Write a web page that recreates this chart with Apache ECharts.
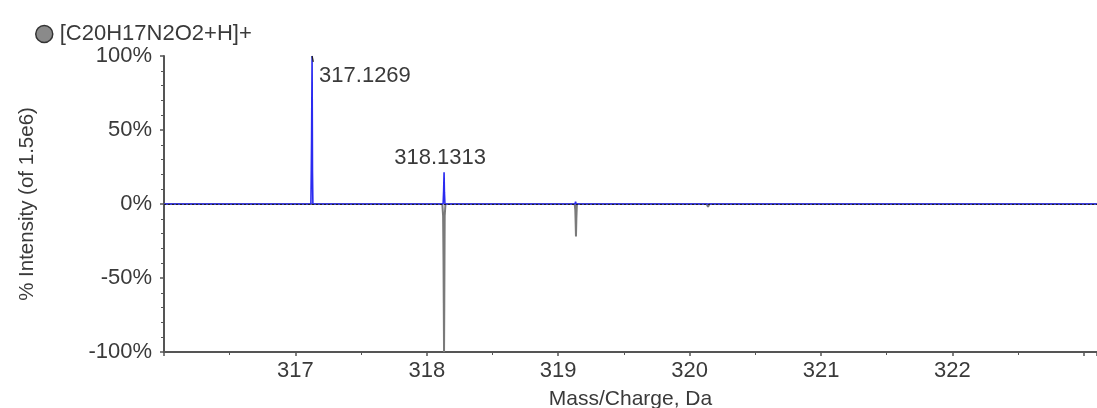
<!DOCTYPE html>
<html><head><meta charset="utf-8">
<script src="https://cdn.jsdelivr.net/npm/echarts@6/dist/echarts.min.js"></script>
<style>html,body{margin:0;padding:0;background:#fff;overflow:hidden}#c{width:1097px;height:408px}</style>
</head><body><div id="c"></div>
<script>
// Measured (blue) profile: [m/z, % intensity]
const measured = [
  [316.0, 0], [317.118, 0], [317.121, 24], [317.123, 43], [317.1269, 100], [317.130, 22], [317.133, 0],
  [318.124, 0], [318.128, 9], [318.1313, 21.5], [318.134, 8], [318.138, 0],
  [319.128, 0], [319.132, 1.5], [319.136, 0],
  [320.13, 0], [320.14, -1], [320.15, 0],
  [321.10, 0], [321.11, 1], [321.13, 0], [323.1, 0]
];
// Theoretical (grey, mirrored) profile
const theoretical = [
  [316.0, 0], [318.118, 0], [318.124, -8], [318.127, -38], [318.129, -67], [318.131, -100],
  [318.133, -67], [318.136, -8], [318.142, 0],
  [319.125, 0], [319.130, -4], [319.133, -14], [319.135, -22], [319.138, -10], [319.142, 0],
  [320.13, 0], [320.14, -2], [320.15, 0],
  [321.13, 0], [321.14, -0.5], [321.15, 0], [323.1, 0]
];
const peakLabels = [317.1269, 318.1313];
const xTicks = [317, 318, 319, 320, 321, 322];
const yTicks = [-100, -50, 0, 50, 100];
const formulaName = '[C20H17N2O2+H]+';

const txt = '#3a3a3a';
const font = 'Liberation Sans, Arial, sans-serif';
const chart = echarts.init(document.getElementById('c'), null, {renderer: 'canvas'});
chart.setOption({
  animation: false,
  textStyle: {fontFamily: font},
  legend: {
    left: 30, top: 18, icon: 'circle', itemWidth: 17, itemHeight: 17, itemGap: 4,
    data: [{name: formulaName, itemStyle: {color: '#8a8a8a', borderColor: '#333', borderWidth: 1.5}}],
    textStyle: {fontSize: 22, color: txt, fontFamily: font, padding: [0, 0, 0, 2]}
  },
  grid: {left: 164, right: 0, top: 56, bottom: 56, containLabel: false, outerBoundsMode: 'none'},
  xAxis: {
    type: 'value', min: 316, max: 323.1, interval: 1,
    name: 'Mass/Charge, Da', nameLocation: 'middle', nameGap: 37,
    nameTextStyle: {fontSize: 21, color: txt},
    axisLine: {show: true, onZero: false, lineStyle: {color: '#555', width: 2}},
    axisTick: {show: true, length: 4, lineStyle: {color: '#555', width: 1.5}},
    minorTick: {show: true, splitNumber: 2, length: 3, lineStyle: {color: '#555'}},
    splitLine: {show: false},
    axisLabel: {fontSize: 22, color: txt, margin: 8,
      formatter: v => xTicks.indexOf(Math.round(v)) >= 0 && Math.abs(v - Math.round(v)) < 1e-6 ? String(Math.round(v)) : ''}
  },
  yAxis: {
    type: 'value', min: -100, max: 100, interval: 50,
    name: '% Intensity (of 1.5e6)', nameLocation: 'middle', nameGap: 126,
    nameTextStyle: {fontSize: 20.5, color: txt},
    axisLine: {show: true, lineStyle: {color: '#555', width: 2}},
    axisTick: {show: true, length: 4, lineStyle: {color: '#555', width: 1.5}},
    minorTick: {show: true, splitNumber: 5, length: 3, lineStyle: {color: '#555'}},
    splitLine: {show: false},
    axisLabel: {fontSize: 22, color: txt, margin: 12,
      formatter: v => yTicks.indexOf(v) >= 0 ? v + '%' : ''}
  },
  series: [
    {
      name: formulaName, type: 'line', data: theoretical, symbol: 'none', z: 2,
      lineStyle: {color: '#7a7a7a', width: 2}, itemStyle: {color: '#8a8a8a'}
    },
    {
      name: 'measured', type: 'line', symbol: 'circle', symbolSize: 0, showSymbol: true, z: 3,
      lineStyle: {color: '#2b2bf0', width: 1.6}, itemStyle: {color: '#2b2bf0'},
      data: measured.map(p => {
        if (Math.abs(p[0] - peakLabels[0]) < 1e-6) {
          return {value: p, label: {show: true, position: 'right', offset: [2, 20],
            formatter: String(peakLabels[0]), fontSize: 22, color: txt}};
        }
        if (Math.abs(p[0] - peakLabels[1]) < 1e-6) {
          return {value: p, label: {show: true, position: 'top', distance: 3, offset: [-4, 0],
            formatter: String(peakLabels[1]), fontSize: 22, color: txt}};
        }
        return p;
      }),
      markLine: {
        silent: true, symbol: 'none', z: 5, label: {show: false},
        lineStyle: {color: '#222', type: [2, 2], width: 1.2},
        data: [{yAxis: 0}]
      }
    },
    {
      type: 'line', symbol: 'none', z: 4, silent: true,
      lineStyle: {color: '#222', width: 1.3},
      data: [[peakLabels[0], 100], [317.136, 96]]
    }
  ]
});
</script></body></html>
